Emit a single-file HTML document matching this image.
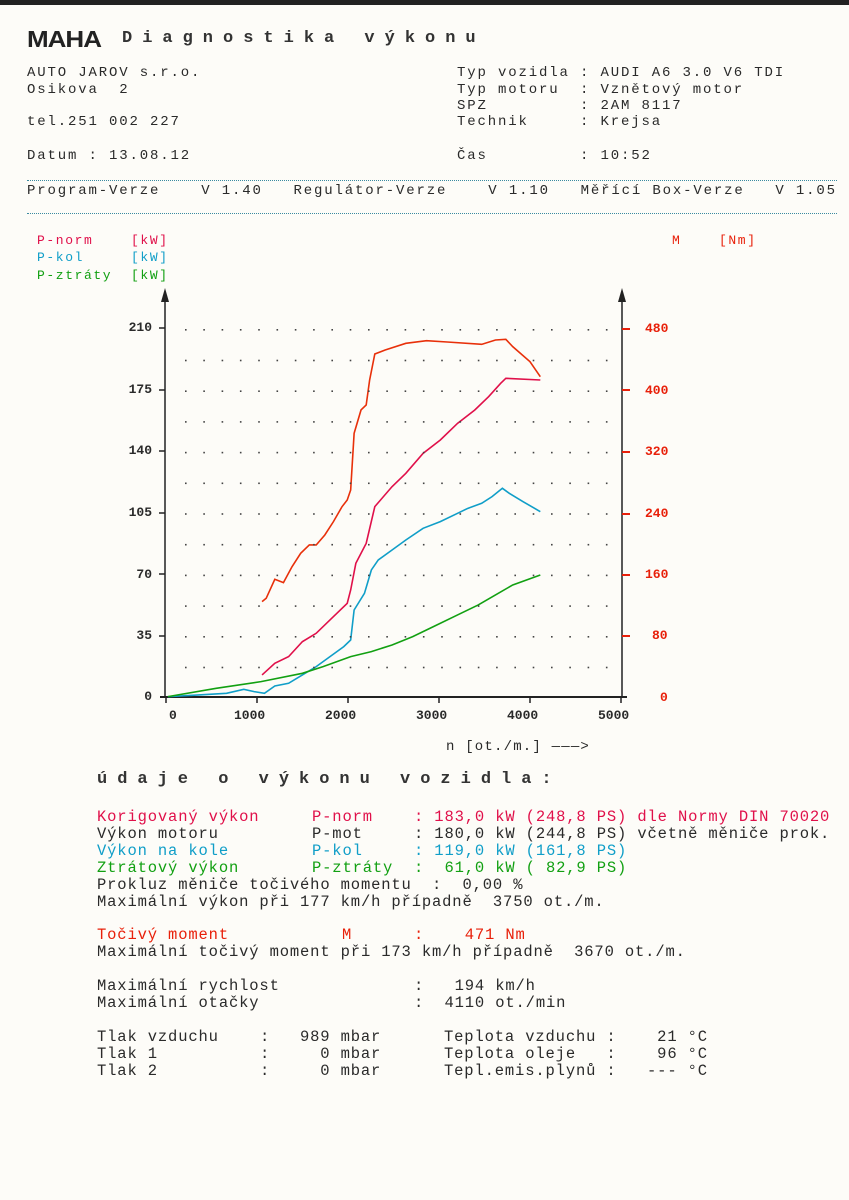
<!DOCTYPE html>
<html><head><meta charset="utf-8"><style>
body{margin:0;width:849px;height:1200px;background:#fdfcf8;position:relative;overflow:hidden;font-family:"Liberation Mono",monospace;color:#2a2a2a}
.t{position:absolute;white-space:pre;font-size:14px;line-height:16px;letter-spacing:1.85px}
.b{position:absolute;white-space:pre;font-size:15.5px;line-height:17px;letter-spacing:0.85px}
.r{color:#e8200a}.m{color:#e0104a}.c{color:#109ec8}.g{color:#12a012}
.ax{position:absolute;font-size:13px;font-weight:bold;line-height:14px;white-space:pre}
.lg{position:absolute;font-size:13px;line-height:14px;white-space:pre;letter-spacing:1.6px}
</style></head><body>
<div style="position:absolute;left:0;top:0;width:849px;height:5px;background:#222"></div>
<div style="position:absolute;left:27px;top:24px;font:bold 26px 'Liberation Sans',sans-serif;letter-spacing:-1px;color:#222;transform:scaleY(0.9)">MAHA</div>
<div class="t" style="left:122px;top:31px;font-size:17px;letter-spacing:10px;font-weight:bold;color:#333">Diagnostika výkonu</div>

<div class="t" style="left:27px;top:65px">AUTO JAROV s.r.o.</div>
<div class="t" style="left:27px;top:82px">Osikova  2</div>
<div class="t" style="left:27px;top:114px">tel.251 002 227</div>
<div class="t" style="left:27px;top:148px">Datum : 13.08.12</div>
<div class="t" style="left:457px;top:65px">Typ vozidla : AUDI A6 3.0 V6 TDI</div>
<div class="t" style="left:457px;top:82px">Typ motoru  : Vznětový motor</div>
<div class="t" style="left:457px;top:98px">SPZ         : 2AM 8117</div>
<div class="t" style="left:457px;top:114px">Technik     : Krejsa</div>
<div class="t" style="left:457px;top:148px">Čas         : 10:52</div>
<div style="position:absolute;left:27px;top:180px;width:810px;border-top:1px dotted #3a8aa0"></div>
<div class="t" style="left:27px;top:183px">Program-Verze    V 1.40   Regulátor-Verze    V 1.10   Měřící Box-Verze   V 1.05</div>
<div style="position:absolute;left:27px;top:213px;width:810px;border-top:1px dotted #3a8aa0"></div>

<div class="lg m" style="left:37px;top:234px">P-norm    [kW]</div>
<div class="lg c" style="left:37px;top:251px">P-kol     [kW]</div>
<div class="lg g" style="left:37px;top:269px">P-ztráty  [kW]</div>
<div class="lg r" style="left:672px;top:234px">M    [Nm]</div>

<svg style="position:absolute;left:0;top:0" width="849" height="1200">
<line x1="165" y1="292" x2="165" y2="698" stroke="#222" stroke-width="1.5"/>
<polygon points="161,302 165,288 169,302" fill="#222"/>
<line x1="622" y1="292" x2="622" y2="698" stroke="#222" stroke-width="1.5"/>
<polygon points="618,302 622,288 626,302" fill="#222"/>
<line x1="160" y1="697" x2="627" y2="697" stroke="#222" stroke-width="2"/>
<g stroke="#222" stroke-width="1.5">
<line x1="159" y1="328" x2="165" y2="328"/><line x1="159" y1="390" x2="165" y2="390"/><line x1="159" y1="451" x2="165" y2="451"/><line x1="159" y1="513" x2="165" y2="513"/><line x1="159" y1="574" x2="165" y2="574"/><line x1="159" y1="636" x2="165" y2="636"/>
<line x1="166" y1="697" x2="166" y2="703"/><line x1="257" y1="697" x2="257" y2="703"/><line x1="348" y1="697" x2="348" y2="703"/><line x1="439" y1="697" x2="439" y2="703"/><line x1="530" y1="697" x2="530" y2="703"/><line x1="621" y1="697" x2="621" y2="703"/>
</g>
<g stroke="#e8200a" stroke-width="2">
<line x1="622" y1="329" x2="630" y2="329"/><line x1="622" y1="390" x2="630" y2="390"/><line x1="622" y1="452" x2="630" y2="452"/><line x1="622" y1="514" x2="630" y2="514"/><line x1="622" y1="575" x2="630" y2="575"/><line x1="622" y1="636" x2="630" y2="636"/>
</g>
<g transform="translate(130,280) scale(0.3448,0.3333)" fill="none" stroke-width="1.6">
<polyline vector-effect="non-scaling-stroke" stroke="#e8300a" points="383,965 395,955 420,898 445,908 470,860 495,820 520,795 540,795 565,765 590,725 615,680 630,660 640,630 650,460 670,390 685,375 695,300 710,222 740,210 800,190 860,182 920,186 1020,193 1060,180 1090,178 1110,200 1160,245 1190,290"/>
<polyline vector-effect="non-scaling-stroke" stroke="#e0104a" points="383,1185 420,1150 460,1130 500,1085 540,1060 580,1020 630,970 640,930 655,850 685,790 710,680 760,620 800,580 850,520 900,480 950,430 1000,390 1040,350 1075,310 1090,295 1190,300"/>
<polyline vector-effect="non-scaling-stroke" stroke="#109ec8" points="110,1250 200,1245 280,1240 330,1228 360,1235 390,1240 420,1218 460,1210 500,1185 540,1160 580,1130 620,1100 640,1080 650,990 680,940 700,870 720,840 760,810 800,780 850,745 900,725 950,700 980,685 1020,670 1050,650 1080,625 1100,640 1140,665 1190,695"/>
<polyline vector-effect="non-scaling-stroke" stroke="#12a012" points="110,1250 250,1225 380,1205 500,1180 560,1160 640,1130 700,1115 760,1095 820,1070 880,1040 950,1005 1010,975 1060,945 1110,915 1190,885"/>
</g>
<g fill="#444" id="grid"></g>
</svg>
<script>
var g=document.getElementById('grid'),s='';
for(var r=0;r<12;r++){var y=329+r*30.7;for(var x=185;x<=608;x+=18.3){s+='<rect x="'+x.toFixed(1)+'" y="'+y.toFixed(1)+'" width="1.6" height="1.6"/>';}}
g.innerHTML=s;
</script>
<div class="ax" style="left:120px;top:321px;width:32px;text-align:right">210</div>
<div class="ax" style="left:120px;top:383px;width:32px;text-align:right">175</div>
<div class="ax" style="left:120px;top:444px;width:32px;text-align:right">140</div>
<div class="ax" style="left:120px;top:506px;width:32px;text-align:right">105</div>
<div class="ax" style="left:120px;top:568px;width:32px;text-align:right">70</div>
<div class="ax" style="left:120px;top:629px;width:32px;text-align:right">35</div>
<div class="ax" style="left:120px;top:690px;width:32px;text-align:right">0</div>
<div class="ax r" style="left:645px;top:322px">480</div>
<div class="ax r" style="left:645px;top:384px">400</div>
<div class="ax r" style="left:645px;top:445px">320</div>
<div class="ax r" style="left:645px;top:507px">240</div>
<div class="ax r" style="left:645px;top:568px">160</div>
<div class="ax r" style="left:652px;top:629px">80</div>
<div class="ax r" style="left:660px;top:691px">0</div>
<div class="ax" style="left:169px;top:709px">0</div>
<div class="ax" style="left:234px;top:709px">1000</div>
<div class="ax" style="left:325px;top:709px">2000</div>
<div class="ax" style="left:416px;top:709px">3000</div>
<div class="ax" style="left:507px;top:709px">4000</div>
<div class="ax" style="left:598px;top:709px">5000</div>
<div class="t" style="left:446px;top:739px;letter-spacing:1.2px">n [ot./m.] ———&gt;</div>

<div class="t" style="left:97px;top:772px;font-size:17px;letter-spacing:10px;font-weight:bold;color:#333">údaje o výkonu vozidla:</div>

<div class="b m" style="left:97px;top:809px">Korigovaný výkon</div><div class="b m" style="left:312px;top:809px">P-norm</div><div class="b m" style="left:414px;top:809px">: 183,0 kW (248,8 PS) dle Normy DIN 70020</div>
<div class="b" style="left:97px;top:826px">Výkon motoru</div><div class="b" style="left:312px;top:826px">P-mot</div><div class="b" style="left:414px;top:826px">: 180,0 kW (244,8 PS) včetně měniče prok.</div>
<div class="b c" style="left:97px;top:843px">Výkon na kole</div><div class="b c" style="left:312px;top:843px">P-kol</div><div class="b c" style="left:414px;top:843px">: 119,0 kW (161,8 PS)</div>
<div class="b g" style="left:97px;top:860px">Ztrátový výkon</div><div class="b g" style="left:312px;top:860px">P-ztráty</div><div class="b g" style="left:414px;top:860px">:  61,0 kW ( 82,9 PS)</div>
<div class="b" style="left:97px;top:877px">Prokluz měniče točivého momentu  :  0,00 %</div>
<div class="b" style="left:97px;top:894px">Maximální výkon při 177 km/h případně  3750 ot./m.</div>
<div class="b r" style="left:97px;top:927px">Točivý moment</div><div class="b r" style="left:342px;top:927px">M</div><div class="b r" style="left:414px;top:927px">:    471 Nm</div>
<div class="b" style="left:97px;top:944px">Maximální točivý moment při 173 km/h případně  3670 ot./m.</div>
<div class="b" style="left:97px;top:978px">Maximální rychlost</div><div class="b" style="left:414px;top:978px">:   194 km/h</div>
<div class="b" style="left:97px;top:995px">Maximální otačky</div><div class="b" style="left:414px;top:995px">:  4110 ot./min</div>
<div class="b" style="left:97px;top:1029px">Tlak vzduchu</div><div class="b" style="left:260px;top:1029px">:</div><div class="b" style="left:300px;top:1029px">989 mbar</div>
<div class="b" style="left:97px;top:1046px">Tlak 1</div><div class="b" style="left:260px;top:1046px">:</div><div class="b" style="left:300px;top:1046px">  0 mbar</div>
<div class="b" style="left:97px;top:1063px">Tlak 2</div><div class="b" style="left:260px;top:1063px">:</div><div class="b" style="left:300px;top:1063px">  0 mbar</div>
<div class="b" style="left:444px;top:1029px">Teplota vzduchu :    21 °C</div>
<div class="b" style="left:444px;top:1046px">Teplota oleje   :    96 °C</div>
<div class="b" style="left:444px;top:1063px">Tepl.emis.plynů :   --- °C</div>
</body></html>
